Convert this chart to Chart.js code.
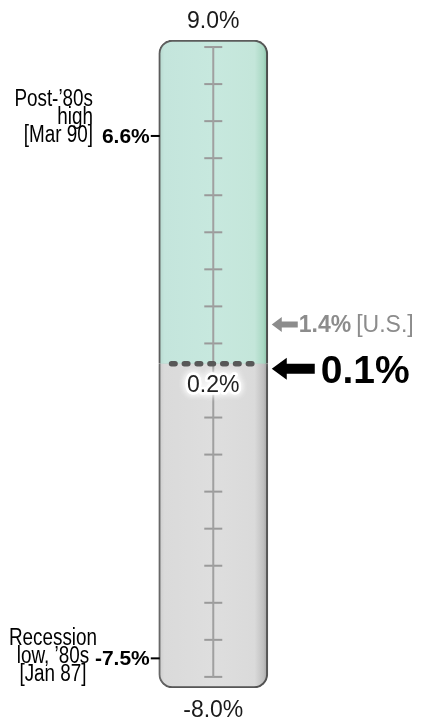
<!DOCTYPE html>
<html>
<head>
<meta charset="utf-8">
<script src="https://cdn.jsdelivr.net/npm/chart.js@4.4.1/dist/chart.umd.min.js"></script>
<style>
  html, body { margin: 0; padding: 0; background: #fff; }
  #wrap { width: 424px; height: 719px; position: relative; }
</style>
</head>
<body>
<div id="wrap"><canvas id="gauge"></canvas></div>
<script>
// ends of the scale and the tube
const scaleEnds = [9.0, -8.0];
const scaleEndLabels = ['9.0%', '-8.0%'];
const tubeEnds = [9.19, -8.3];

// tick marks on the centre line (0 sits under the split label)
const tickValues = [9, 8, 7, 6, 5, 4, 3, 2, 1, -1, -2, -3, -4, -5, -6, -7, -8];

// where the green part stops and the grey part starts
const splitLevel = 0.45;
const splitLabel = '0.2%';

// arrows on the right
const markerLevels = [1.4, 0.32];
const markerLabels = ['1.4%', '0.1%'];
const markerNotes = ['[U.S.]', ''];

// records on the left
const recordLevels = [6.6, -7.5];
const recordLabels = ['6.6%', '-7.5%'];
const recordNotes = [
  ['Post-\u201980s', 'high', '[Mar 90]'],
  ['Recession', 'low, \u201980s', '[Jan 87]']
];

const tubeX = 213.5;
const tubeW = 109;
const FONT = '"Liberation Sans", Arial, sans-serif';

// is there a narrow face? otherwise squeeze the normal one
function hasNarrow() {
  const c = document.createElement('canvas').getContext('2d');
  c.font = '20px "Liberation Sans Narrow", monospace';
  const a = c.measureText('Post-80s high Recession').width;
  c.font = '20px monospace';
  const b = c.measureText('Post-80s high Recession').width;
  return a !== b;
}
const narrowOk = hasNarrow();

function tubeGradient(chart, stops) {
  const xs = chart.scales.x;
  const l = xs.getPixelForValue(tubeX) - tubeW / 2;
  const g = chart.ctx.createLinearGradient(l, 0, l + tubeW, 0);
  stops.forEach(s => g.addColorStop(s[0], s[1]));
  return g;
}

const greenStops = [[0, '#b4d6cc'], [0.05, '#c4e5dc'], [0.5, '#c7e8de'], [0.88, '#c4e6da'], [0.96, '#a9d8c3'], [1, '#86bea5']];
const greyStops = [[0, '#cbcbcb'], [0.05, '#dadada'], [0.5, '#dedede'], [0.88, '#dadada'], [0.96, '#c0c0c0'], [1, '#a0a0a0']];

function arrow(ctx, tipX, y, len, headLen, headH, shaftH, color) {
  ctx.fillStyle = color;
  ctx.beginPath();
  ctx.moveTo(tipX, y);
  ctx.lineTo(tipX + headLen, y - headH / 2);
  ctx.lineTo(tipX + headLen, y - shaftH / 2);
  ctx.lineTo(tipX + len, y - shaftH / 2);
  ctx.lineTo(tipX + len, y + shaftH / 2);
  ctx.lineTo(tipX + headLen, y + shaftH / 2);
  ctx.lineTo(tipX + headLen, y + headH / 2);
  ctx.closePath();
  ctx.fill();
}

function narrowText(ctx, txt, x, y, size, align) {
  if (narrowOk) {
    ctx.font = size + 'px "Liberation Sans Narrow", ' + FONT;
    ctx.textAlign = align;
    ctx.fillText(txt, x, y);
    return;
  }
  ctx.save();
  ctx.translate(x, y);
  ctx.scale(0.82, 1);
  ctx.font = size + 'px ' + FONT;
  ctx.textAlign = align;
  ctx.fillText(txt, 0, 0);
  ctx.restore();
}

// shadow under the tube
const tubeShadow = {
  id: 'tubeShadow',
  beforeDatasetDraw(chart, args) {
    if (args.meta.type !== 'bar') return;
    const ctx = chart.ctx;
    ctx.save();
    ctx.shadowColor = 'rgba(0,0,0,0.3)';
    ctx.shadowBlur = 4;
    ctx.shadowOffsetX = 2;
    ctx.shadowOffsetY = 2;
  },
  afterDatasetDraw(chart, args) {
    if (args.meta.type !== 'bar') return;
    chart.ctx.restore();
  }
};

// all the texts and arrows
const labelsPlugin = {
  id: 'labelsPlugin',
  afterDatasetsDraw(chart) {
    const ctx = chart.ctx;
    const xs = chart.scales.x, ys = chart.scales.y;
    const cx = xs.getPixelForValue(tubeX);
    const right = cx + tubeW / 2;
    const left = cx - tubeW / 2;
    ctx.save();
    ctx.textBaseline = 'alphabetic';

    // scale ends
    ctx.fillStyle = '#1a1a1a';
    ctx.font = '23px ' + FONT;
    ctx.textAlign = 'center';
    ctx.fillText(scaleEndLabels[0], cx, ys.getPixelForValue(scaleEnds[0]) - 19);
    ctx.fillText(scaleEndLabels[1], cx, ys.getPixelForValue(scaleEnds[1]) + 40);

    // split label with white glow
    const sy = ys.getPixelForValue(splitLevel) + 28;
    ctx.save();
    ctx.shadowColor = '#ffffff';
    ctx.shadowBlur = 7;
    ctx.strokeStyle = 'rgba(255,255,255,0.9)';
    ctx.lineWidth = 5;
    ctx.lineJoin = 'round';
    ctx.strokeText(splitLabel, cx, sy);
    ctx.strokeText(splitLabel, cx, sy);
    ctx.restore();
    ctx.fillStyle = '#222';
    ctx.fillText(splitLabel, cx, sy);

    // U.S. arrow (grey)
    let y = ys.getPixelForValue(markerLevels[0]) - 4;
    arrow(ctx, right + 4, y, 26, 10, 15, 6, '#8c8c8c');
    ctx.fillStyle = '#8c8c8c';
    ctx.textAlign = 'left';
    ctx.textBaseline = 'middle';
    ctx.font = 'bold 23px ' + FONT;
    ctx.fillText(markerLabels[0], right + 31, y + 1);
    const w = ctx.measureText(markerLabels[0]).width;
    ctx.font = '23px ' + FONT;
    ctx.fillText(markerNotes[0], right + 36 + w, y + 1);

    // current reading (big black)
    y = ys.getPixelForValue(markerLevels[1]);
    arrow(ctx, right + 4, y, 43, 15, 22, 10, '#000');
    ctx.fillStyle = '#000';
    ctx.font = 'bold 39px ' + FONT;
    ctx.fillText(markerLabels[1], right + 53, y + 4);

    // records on the left
    recordLevels.forEach((v, i) => {
      const ry = ys.getPixelForValue(v);
      ctx.strokeStyle = '#000';
      ctx.lineWidth = 2;
      ctx.beginPath();
      ctx.moveTo(left - 8, ry);
      ctx.lineTo(left + 1, ry);
      ctx.stroke();
      ctx.fillStyle = '#000';
      ctx.textAlign = 'right';
      ctx.textBaseline = 'middle';
      ctx.font = 'bold 21px ' + FONT;
      ctx.fillText(recordLabels[i], left - 9, ry + 1);

      const lines = recordNotes[i];
      const anchor = i === 0 ? 2 : 1;
      const shift = i === 0 ? 0 : -2;
      lines.forEach((t, k) => {
        const ly = ry + shift + (k - anchor) * 18;
        if (i === 0) narrowText(ctx, t, 93, ly, 23, 'right');
        else narrowText(ctx, t, 53, ly, 23, 'center');
      });
    });
    ctx.restore();
  }
};

new Chart(document.getElementById('gauge'), {
  data: {
    datasets: [
      {
        type: 'bar',
        data: [{ x: tubeX, y: [splitLevel, tubeEnds[0]] }],
        backgroundColor: c => c.chart.chartArea ? tubeGradient(c.chart, greenStops) : '#c6e7dc',
        borderColor: '#5e5e5e',
        borderWidth: 2,
        borderSkipped: 'bottom',
        borderRadius: { topLeft: 14, topRight: 14, bottomLeft: 0, bottomRight: 0 },
        barThickness: tubeW,
        grouped: false,
        order: 4
      },
      {
        // the floating bar counts from the split, so its "bottom" is the top edge
        type: 'bar',
        data: [{ x: tubeX, y: [tubeEnds[1], splitLevel] }],
        backgroundColor: c => c.chart.chartArea ? tubeGradient(c.chart, greyStops) : '#dcdcdc',
        borderColor: '#6a6a6a',
        borderWidth: 2,
        borderSkipped: 'bottom',
        borderRadius: { topLeft: 0, topRight: 0, bottomLeft: 14, bottomRight: 14 },
        barThickness: tubeW,
        grouped: false,
        order: 3
      },
      {
        // centre line
        type: 'line',
        data: [{ x: tubeX, y: scaleEnds[0] }, { x: tubeX, y: scaleEnds[1] }],
        borderColor: '#a0a0a0',
        borderWidth: 2,
        pointRadius: 0,
        order: 2
      },
      {
        // ticks
        type: 'scatter',
        data: tickValues.map(v => ({ x: tubeX, y: v })),
        pointStyle: 'line',
        pointRadius: 9,
        borderColor: '#9a9a9a',
        borderWidth: 2,
        order: 2
      },
      {
        // dotted split line
        type: 'line',
        data: [{ x: tubeX - tubeW / 2 + 5, y: splitLevel }, { x: tubeX + tubeW / 2 - 3, y: splitLevel }],
        borderColor: '#585858',
        borderWidth: 5.5,
        borderDash: [3.5, 9.3],
        borderCapStyle: 'round',
        pointRadius: 0,
        order: 1
      }
    ]
  },
  options: {
    responsive: true,
    maintainAspectRatio: false,
    animation: false,
    layout: { padding: { top: 40, bottom: 31, left: 0, right: 0 } },
    scales: {
      x: { type: 'linear', min: 0, max: 424, display: false },
      y: { type: 'linear', min: tubeEnds[1], max: tubeEnds[0], display: false }
    },
    plugins: {
      legend: { display: false },
      tooltip: { enabled: false }
    }
  },
  plugins: [tubeShadow, labelsPlugin]
});
</script>
</body>
</html>
